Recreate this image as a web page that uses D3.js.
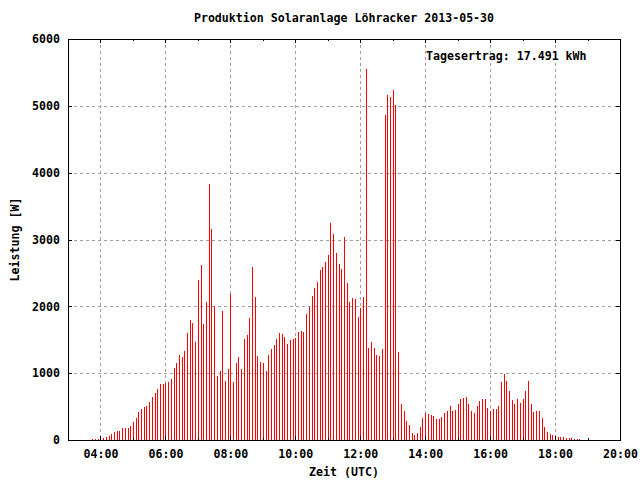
<!DOCTYPE html>
<html>
<head>
<meta charset="utf-8">
<script src="https://cdn.jsdelivr.net/npm/d3@7"></script>
<style>
  html, body { margin: 0; padding: 0; background: #ffffff; }
  svg { display: block; }
  text { font-family: "DejaVu Sans Mono", "Liberation Mono", monospace; font-weight: bold; font-size: 11.6px; fill: #000; }
</style>
</head>
<body>
<svg id="chart" width="640" height="480"></svg>
<script>
// ---- Data ----
const title = "Produktion Solaranlage Löhracker 2013-05-30";
const day = "2013-05-30";
const xLabel = "Zeit (UTC)";
const yLabel = "Leistung [W]";
const annotation = "Tagesertrag: 17.491 kWh";

const times = [
  "03:45","03:50","03:55","04:00","04:05","04:10","04:15","04:20","04:25","04:30","04:35","04:40","04:45","04:50","04:55",
  "05:00","05:05","05:10","05:15","05:20","05:25","05:30","05:35","05:40","05:45","05:50","05:55",
  "06:00","06:05","06:10","06:15","06:20","06:25","06:30","06:35","06:40","06:45","06:50","06:55",
  "07:00","07:05","07:10","07:15","07:20","07:25","07:30","07:35","07:40","07:45","07:50","07:55",
  "08:00","08:05","08:10","08:15","08:20","08:25","08:30","08:35","08:40","08:45","08:50","08:55",
  "09:00","09:05","09:10","09:15","09:20","09:25","09:30","09:35","09:40","09:45","09:50","09:55",
  "10:00","10:05","10:10","10:15","10:20","10:25","10:30","10:35","10:40","10:45","10:50","10:55",
  "11:00","11:05","11:10","11:15","11:20","11:25","11:30","11:35","11:40","11:45","11:50","11:55",
  "12:00","12:05","12:10","12:15","12:20","12:25","12:30","12:35","12:40","12:45","12:50","12:55",
  "13:00","13:05","13:10","13:15","13:20","13:25","13:30","13:35","13:40","13:45","13:50","13:55",
  "14:00","14:05","14:10","14:15","14:20","14:25","14:30","14:35","14:40","14:45","14:50","14:55",
  "15:00","15:05","15:10","15:15","15:20","15:25","15:30","15:35","15:40","15:45","15:50","15:55",
  "16:00","16:05","16:10","16:15","16:20","16:25","16:30","16:35","16:40","16:45","16:50","16:55",
  "17:00","17:05","17:10","17:15","17:20","17:25","17:30","17:35","17:40","17:45","17:50","17:55",
  "18:00","18:05","18:10","18:15","18:20","18:25","18:30","18:35","18:40","18:45"
];

const watts = [
  15,15,15,30,30,45,60,90,120,135,135,180,180,180,210,
  270,330,420,465,495,510,570,645,705,765,840,840,
  855,870,915,1080,1150,1270,1240,1330,1600,1800,1750,1465,
  2395,2620,1735,2065,3830,3155,2005,960,1035,1930,885,1060,
  2185,870,1150,1240,1060,1510,1570,1825,2590,2140,1255,1165,
  1150,1035,1270,1360,1420,1510,1600,1585,1540,1435,1495,1510,
  1525,1615,1630,1615,1885,1990,2155,2275,2365,2545,2590,2665,
  2770,3245,3085,2800,2635,2560,3040,2350,2065,2125,2110,1840,
  1975,2140,5550,1375,1465,1375,1270,1255,1360,4865,5165,5135,
  5235,5015,1315,540,435,285,225,105,75,105,195,330,
  405,390,375,360,315,315,345,405,435,510,435,450,
  540,615,630,645,540,435,405,510,585,615,615,480,
  435,465,465,510,870,990,885,735,600,540,615,555,
  615,735,885,540,420,435,435,330,195,120,90,75,
  60,45,45,45,30,30,30,15,15,15
];

const xDomain = ["03:00", "20:00"];
const xMajorTicks = ["04:00","06:00","08:00","10:00","12:00","14:00","16:00","18:00","20:00"];
const xMinorTicks = ["05:00","07:00","09:00","11:00","13:00","15:00","17:00","19:00"];
const yTicks = [0, 1000, 2000, 3000, 4000, 5000, 6000];
const yDomain = [0, 6000];

// ---- Layout ----
const W = 640, H = 480;
const L = 68, R = 620, T = 39, B = 440;
const toDate = s => new Date(day + "T" + s + ":00Z");

const svg = d3.select("#chart");
const x = d3.scaleUtc().domain(xDomain.map(toDate)).range([L, R]);
const y = d3.scaleLinear().domain(yDomain).range([B, T]);

// grid
const grid = svg.append("g").attr("stroke", "#a0a0a0").attr("stroke-width", 1)
  .attr("stroke-dasharray", "3,3").attr("shape-rendering", "crispEdges");
xMajorTicks.filter(t => t !== "20:00").forEach(t => {
  const px = Math.round(x(toDate(t))) + 0.5;
  grid.append("line").attr("x1", px).attr("x2", px).attr("y1", T).attr("y2", B);
});
yTicks.filter(v => v > 0 && v < 6000).forEach(v => {
  const py = Math.round(y(v)) + 0.5;
  grid.append("line").attr("x1", L).attr("x2", R).attr("y1", py).attr("y2", py);
});

// bars (impulses)
svg.append("g").selectAll("rect").data(times.map((t, i) => ({t: toDate(t), v: watts[i]})))
  .join("rect")
  .attr("x", d => Math.round(x(d.t)))
  .attr("width", 1)
  .attr("y", d => Math.round(y(d.v)))
  .attr("height", d => Math.round(y(0)) - Math.round(y(d.v)))
  .attr("fill", "#ff0000")
  .attr("shape-rendering", "crispEdges");

// axes (inward ticks, gnuplot style)
const xAxis = d3.axisBottom(x).tickValues(xMajorTicks.map(toDate))
  .tickFormat(d3.utcFormat("%H:%M")).tickSizeInner(-4).tickSizeOuter(0).tickPadding(10);
const gx = svg.append("g").attr("transform", `translate(0,${B})`).call(xAxis);
gx.select(".domain").remove();
gx.selectAll("text").style("font-family", null).style("font-size", null)
  .attr("font-family", null).attr("font-size", null);

const xAxisMinor = d3.axisBottom(x).tickValues(xMinorTicks.map(toDate)).tickFormat("").tickSizeInner(-2).tickSizeOuter(0);
const gxm = svg.append("g").attr("transform", `translate(0,${B})`).call(xAxisMinor);
gxm.select(".domain").remove();

const xTop = d3.axisTop(x).tickValues(xMajorTicks.map(toDate)).tickFormat("").tickSizeInner(-4).tickSizeOuter(0);
const gxt = svg.append("g").attr("transform", `translate(0,${T})`).call(xTop);
gxt.select(".domain").remove();
const xTopMinor = d3.axisTop(x).tickValues(xMinorTicks.map(toDate)).tickFormat("").tickSizeInner(-2).tickSizeOuter(0);
const gxtm = svg.append("g").attr("transform", `translate(0,${T})`).call(xTopMinor);
gxtm.select(".domain").remove();

const yAxis = d3.axisLeft(y).tickValues(yTicks).tickFormat(d3.format("d"))
  .tickSizeInner(-4).tickSizeOuter(0).tickPadding(8);
const gy = svg.append("g").attr("transform", `translate(${L},0)`).call(yAxis);
gy.select(".domain").remove();
gy.selectAll("text").attr("font-family", null).attr("font-size", null);

const yRight = d3.axisRight(y).tickValues(yTicks).tickFormat("").tickSizeInner(-4).tickSizeOuter(0);
const gyr = svg.append("g").attr("transform", `translate(${R},0)`).call(yRight);
gyr.select(".domain").remove();

svg.selectAll(".tick line").attr("stroke", "#000").attr("shape-rendering", "crispEdges");
svg.selectAll("g").attr("font-family", null).attr("font-size", null);

// border
svg.append("rect").attr("x", L + 0.5).attr("y", T + 0.5).attr("width", R - L).attr("height", B - T)
  .attr("fill", "none").attr("stroke", "#000").attr("stroke-width", 1).attr("shape-rendering", "crispEdges");

// texts
svg.append("text").attr("x", (L + R) / 2).attr("y", 22).attr("text-anchor", "middle").text(title);
svg.append("text").attr("x", (L + R) / 2).attr("y", 476).attr("text-anchor", "middle").text(xLabel);
svg.append("text").attr("transform", `translate(19,${(T + B) / 2}) rotate(-90)`).attr("text-anchor", "middle").text(yLabel);
svg.append("text").attr("x", 426).attr("y", 60).attr("text-anchor", "start").text(annotation);
</script>
</body>
</html>
